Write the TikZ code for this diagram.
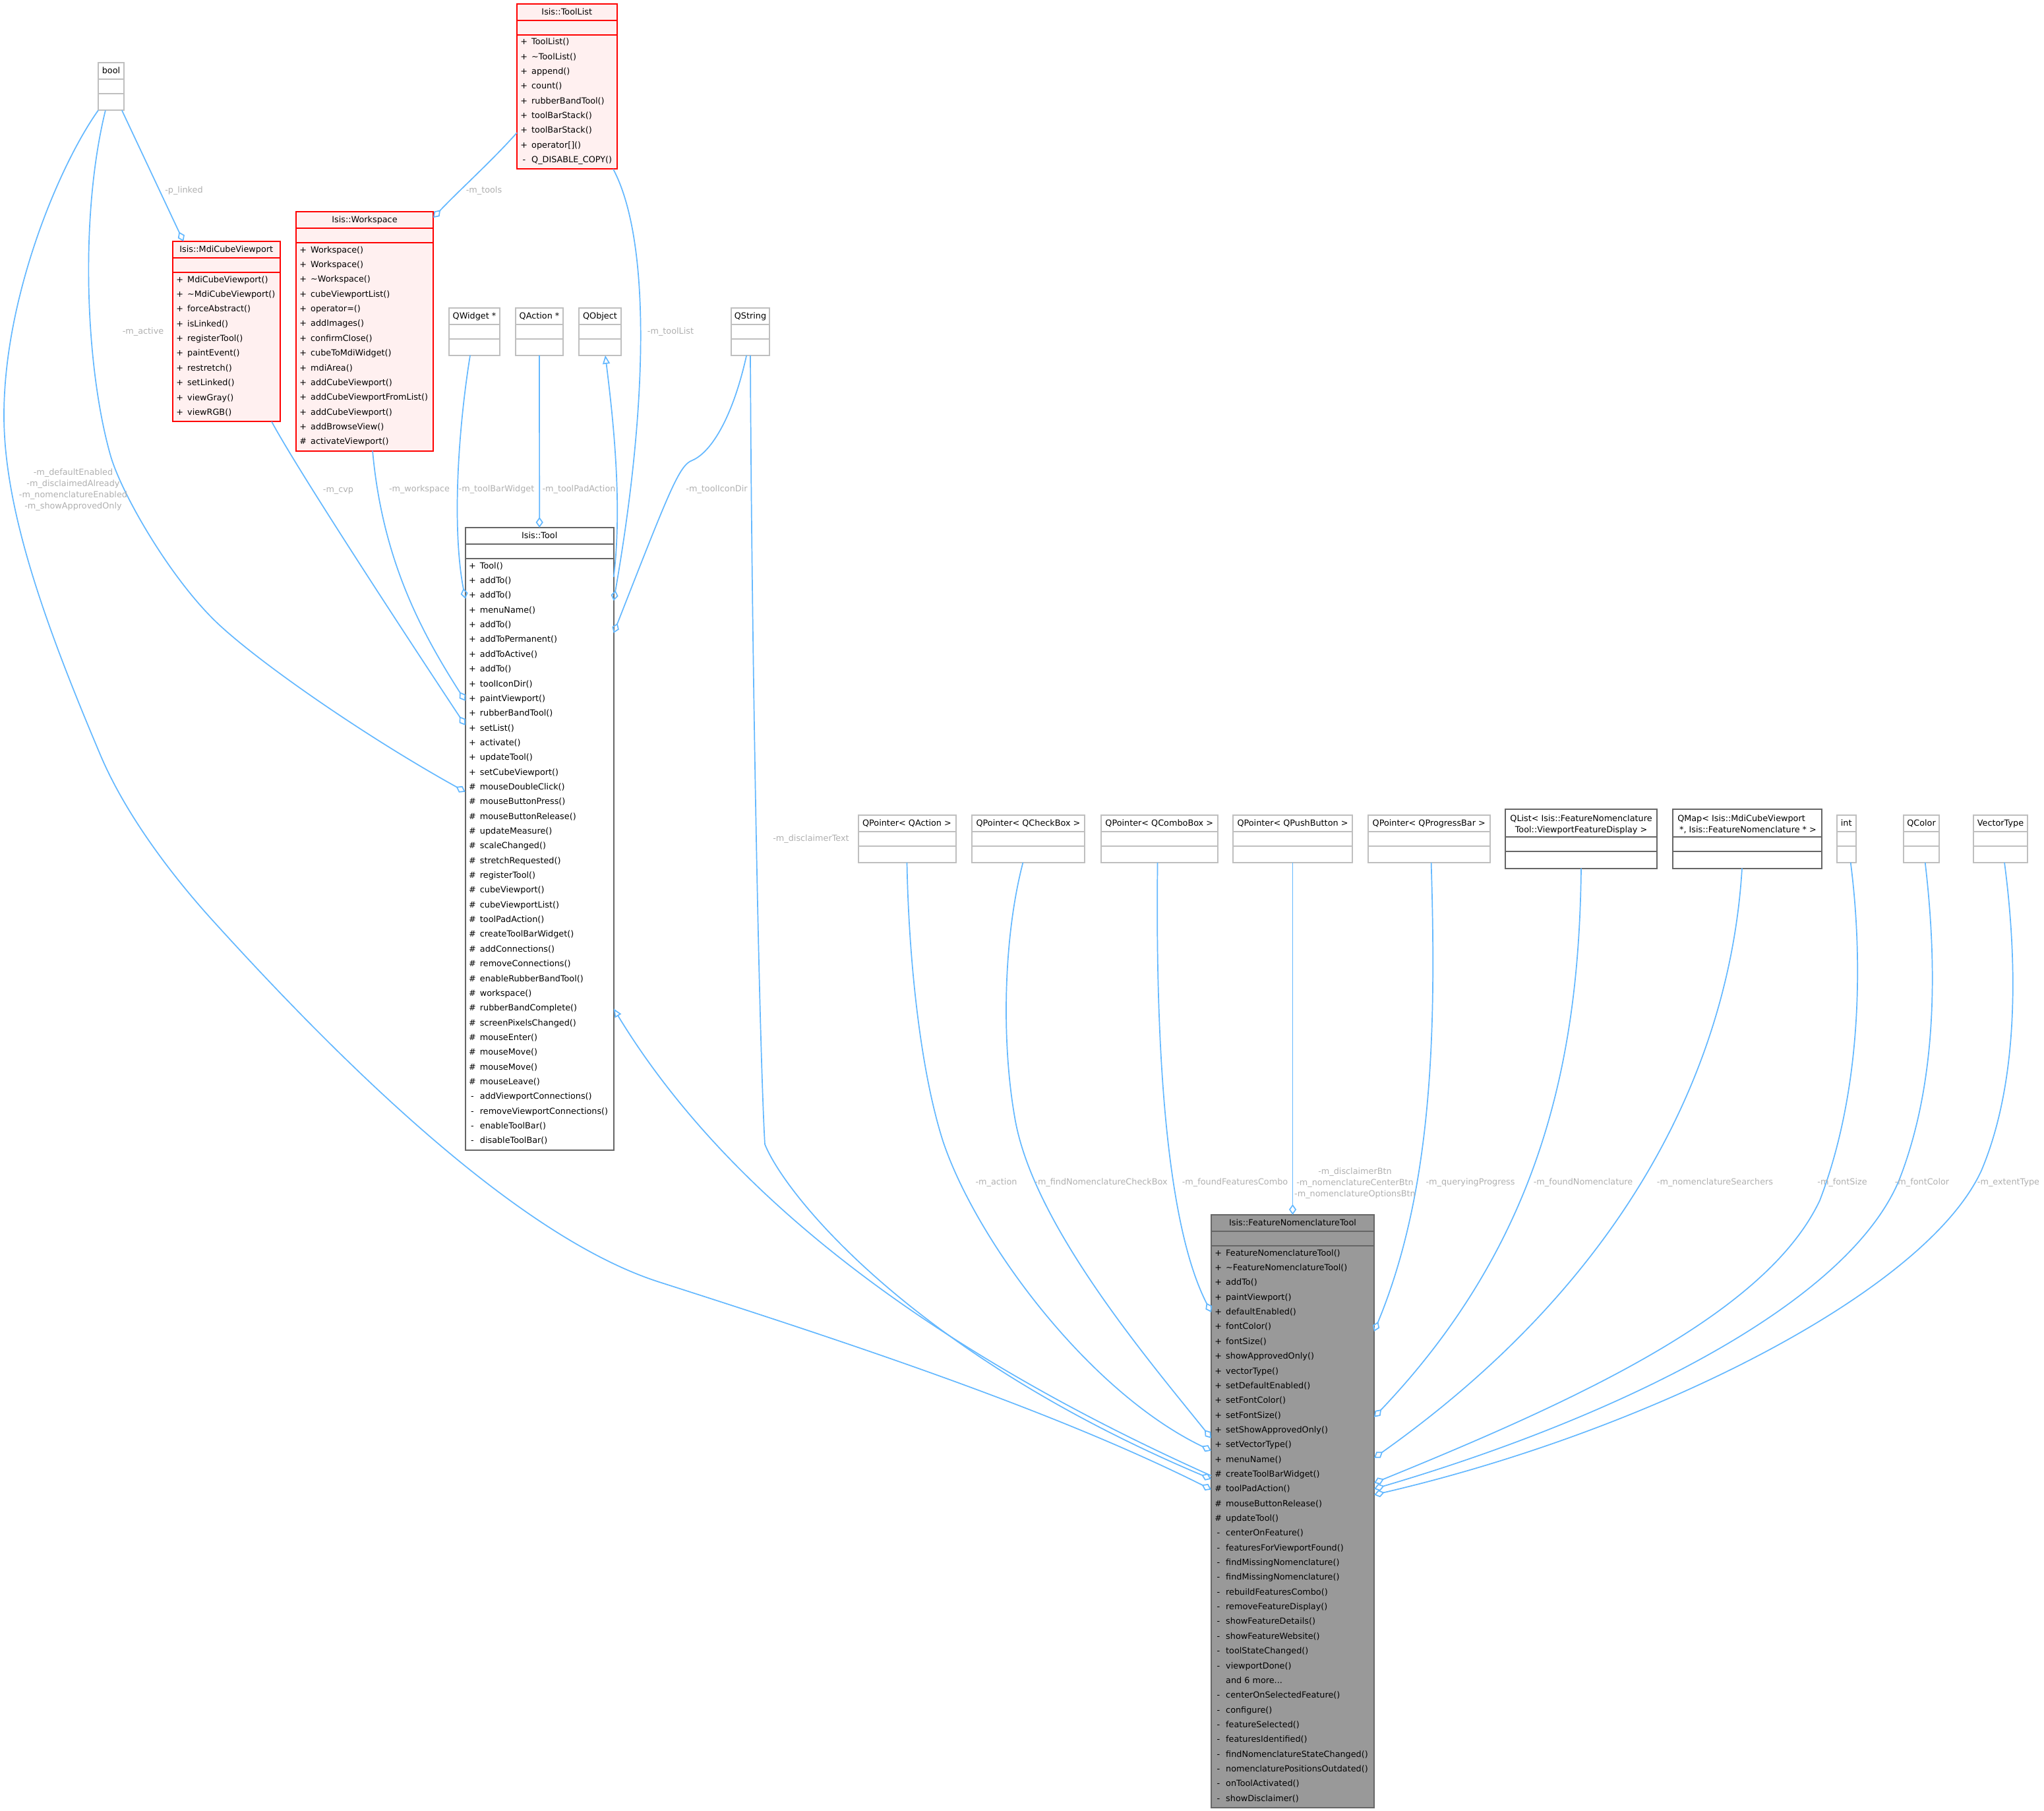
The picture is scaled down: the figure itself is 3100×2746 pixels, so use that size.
\documentclass[tikz,border=0pt]{standalone}
\usepackage{fontspec}
\setmainfont{DejaVu Sans}
\usetikzlibrary{calc,arrows.meta}
\definecolor{edgeblue}{HTML}{63B8FF}
\definecolor{lblgray}{HTML}{B0B0B0}
\definecolor{lightborder}{HTML}{BFBFBF}
\definecolor{darkborder}{HTML}{666666}
\definecolor{redborder}{HTML}{FF0000}
\definecolor{redfill}{HTML}{FFF0F0}
\definecolor{mainfill}{HTML}{999999}
\newcommand\fnt{\fontsize{6.4pt}{8.5pt}\selectfont}
\tikzset{
  lightbox/.style={draw=lightborder, fill=white, line width=1pt, inner sep=0pt, outer sep=0pt},
  darkbox/.style={draw=darkborder, fill=white, line width=1pt, inner sep=0pt, outer sep=0pt},
  redbox/.style={draw=redborder, fill=redfill, line width=1pt, inner sep=0pt, outer sep=0pt},
  mainbox/.style={draw=darkborder, fill=mainfill, line width=1pt, inner sep=0pt, outer sep=0pt},
  txt/.style={font=\fnt, inner sep=0pt, text=black},
  lbl/.style={font=\fnt, inner sep=0pt, text=lblgray, align=center},
  agg/.style={draw=edgeblue, line width=0.85pt, -{Diamond[open, length=8pt, width=5.6pt]}},
  inh/.style={draw=edgeblue, line width=0.85pt, -{Triangle[open, length=6.5pt, width=5.5pt]}},
}
% simple box: name, x, y, w, header
\newcommand\mkSimple[5]{%
  \node[lightbox, anchor=north west, minimum width=#4*0.5pt, minimum height=72.3*0.5pt] (#1) at (#2,#3) {};
  \draw[lightbox, fill=none] (#2,#3+25) -- (#2+#4,#3+25) (#2,#3+47.3) -- (#2+#4,#3+47.3);
  \node[txt, anchor=base] (#1-h) at (#2+#4/2,#3+16.8) {#5};
}
% class box: name, style, x, y, w, n members, header
\newcommand\mkClass[7]{%
  \pgfmathsetmacro\myhh{25+22.3+#6*22.35+2.5}
  \node[#2, anchor=north west, minimum width=#5*0.5pt, minimum height=\myhh*0.5pt] (#1) at (#3,#4) {};
  \draw[#2, fill=none] (#3,#4+25) -- (#3+#5,#4+25) (#3,#4+47.3) -- (#3+#5,#4+47.3);
  \node[txt, anchor=base] (#1-h) at (#3+#5/2,#4+16.8) {#7};
}
% members: prefix, x, field top, list
\newcommand\mkMembers[4]{%
  \foreach \vis/\nam [count=\idx from 0] in {#4} {
    \node[txt, anchor=base] (#1-v\idx) at (#2+10.8, #3+14.9+22.35*\idx) {\vis};
    \node[txt, anchor=base west] (#1-n\idx) at (#2+21.8, #3+14.9+22.35*\idx) {\nam};
  }
}
\begin{document}
\begin{tikzpicture}[x=0.5pt,y=-0.5pt]
\path[use as bounding box, fill=white] (0,0) rectangle (3100,2746);

% ---------- simple boxes ----------
\mkSimple{bool}{149}{95}{39}{bool}
\mkSimple{qwidget}{681}{466.5}{77}{QWidget *}
\mkSimple{qactionp}{782}{466.5}{72}{QAction *}
\mkSimple{qobject}{878}{466.5}{64}{QObject}
\mkSimple{qstring}{1109}{466.5}{58}{QString}
\mkSimple{qpaction}{1301.5}{1235.5}{148}{QPointer< QAction >}
\mkSimple{qpcheck}{1474}{1235.5}{171}{QPointer< QCheckBox >}
\mkSimple{qpcombo}{1669.5}{1235.5}{177.5}{QPointer< QComboBox >}
\mkSimple{qppush}{1870}{1235.5}{181}{QPointer< QPushButton >}
\mkSimple{qpprog}{2075}{1235.5}{184.5}{QPointer< QProgressBar >}
\mkSimple{int}{2786}{1235.5}{28.5}{int}
\mkSimple{qcolor}{2887}{1235.5}{54}{QColor}
\mkSimple{vectortype}{2993}{1235.5}{82}{VectorType}

% ---------- two-line header boxes ----------
\node[darkbox, anchor=north west, minimum width=230*0.5pt, minimum height=89.5*0.5pt] (qlist) at (2283,1227) {};
\draw[darkbox, fill=none] (2283,1269) -- (2513,1269) (2283,1291.3) -- (2513,1291.3);
\node[txt, anchor=base] (qlist-h1) at (2398,1245) {QList< Isis::FeatureNomenclature};
\node[txt, anchor=base] (qlist-h2) at (2398,1262) {Tool::ViewportFeatureDisplay >};

\node[darkbox, anchor=north west, minimum width=226.4*0.5pt, minimum height=89.5*0.5pt] (qmap) at (2536.6,1227) {};
\draw[darkbox, fill=none] (2536.6,1269) -- (2763,1269) (2536.6,1291.3) -- (2763,1291.3);
\node[txt, anchor=base] (qmap-h1) at (2641,1245) {QMap< Isis::MdiCubeViewport};
\node[txt, anchor=base] (qmap-h2) at (2651,1262) {*, Isis::FeatureNomenclature * >};

% ---------- class boxes ----------
\mkClass{toollist}{redbox}{784}{5.5}{151.5}{9}{Isis::ToolList}
\mkMembers{toollist}{784}{52.8}{+/ToolList(), +/\textasciitilde ToolList(), +/append(), +/count(), +/rubberBandTool(), +/toolBarStack(), +/toolBarStack(), +/operator[](), -/Q\_DISABLE\_COPY()}

\mkClass{mdi}{redbox}{262}{366}{162.5}{10}{Isis::MdiCubeViewport}
\mkMembers{mdi}{262}{413.3}{+/MdiCubeViewport(), +/\textasciitilde MdiCubeViewport(), +/forceAbstract(), +/isLinked(), +/registerTool(), +/paintEvent(), +/restretch(), +/setLinked(), +/viewGray(), +/viewRGB()}

\mkClass{ws}{redbox}{449}{321}{208}{14}{Isis::Workspace}
\mkMembers{ws}{449}{368.3}{+/Workspace(), +/Workspace(), +/\textasciitilde Workspace(), +/cubeViewportList(), +/operator=(), +/addImages(), +/confirmClose(), +/cubeToMdiWidget(), +/mdiArea(), +/addCubeViewport(), +/addCubeViewportFromList(), +/addCubeViewport(), +/addBrowseView(), \#/activateViewport()}

\mkClass{tool}{darkbox}{705.7}{800}{225}{40}{Isis::Tool}
\mkMembers{tool}{705.7}{847.3}{+/Tool(), +/addTo(), +/addTo(), +/menuName(), +/addTo(), +/addToPermanent(), +/addToActive(), +/addTo(), +/toolIconDir(), +/paintViewport(), +/rubberBandTool(), +/setList(), +/activate(), +/updateTool(), +/setCubeViewport(), \#/mouseDoubleClick(), \#/mouseButtonPress(), \#/mouseButtonRelease(), \#/updateMeasure(), \#/scaleChanged(), \#/stretchRequested(), \#/registerTool(), \#/cubeViewport(), \#/cubeViewportList(), \#/toolPadAction(), \#/createToolBarWidget(), \#/addConnections(), \#/removeConnections(), \#/enableRubberBandTool(), \#/workspace(), \#/rubberBandComplete(), \#/screenPixelsChanged(), \#/mouseEnter(), \#/mouseMove(), \#/mouseMove(), \#/mouseLeave(), -/addViewportConnections(), -/removeViewportConnections(), -/enableToolBar(), -/disableToolBar()}

\mkClass{fnt}{mainbox}{1837}{1842}{247}{38}{Isis::FeatureNomenclatureTool}
\mkMembers{fnt}{1837}{1889.3}{+/FeatureNomenclatureTool(), +/\textasciitilde FeatureNomenclatureTool(), +/addTo(), +/paintViewport(), +/defaultEnabled(), +/fontColor(), +/fontSize(), +/showApprovedOnly(), +/vectorType(), +/setDefaultEnabled(), +/setFontColor(), +/setFontSize(), +/setShowApprovedOnly(), +/setVectorType(), +/menuName(), \#/createToolBarWidget(), \#/toolPadAction(), \#/mouseButtonRelease(), \#/updateTool(), -/centerOnFeature(), -/featuresForViewportFound(), -/findMissingNomenclature(), -/findMissingNomenclature(), -/rebuildFeaturesCombo(), -/removeFeatureDisplay(), -/showFeatureDetails(), -/showFeatureWebsite(), -/toolStateChanged(), -/viewportDone(), {}/and 6 more.{}.{}., -/centerOnSelectedFeature(), -/configure(), -/featureSelected(), -/featuresIdentified(), -/findNomenclatureStateChanged(), -/nomenclaturePositionsOutdated(), -/onToolActivated(), -/showDisclaimer()}

% ---------- connectors ----------
\draw[agg] ($(bool.south west)!.92!(bool.south east)$) -- ($(mdi.north west)!.1!(mdi.north east)$);
\draw[agg] ($(bool.south west)!.28!(bool.south east)$) .. controls (120,330) and (130,560) .. (168,692) .. controls (185,750) and (260,880) .. (332,947) .. controls (400,1010) and (560,1120) .. ($(tool.north west)!.4245!(tool.south west)$);
\draw[agg] (bool.south west) .. controls (90,250) and (6,450) .. (6,630) .. controls (6,780) and (75,962) .. (153,1146.5) .. controls (193,1240) and (266,1334) .. (326.5,1400) .. controls (607,1709) and (831,1890) .. (1000,1944) .. controls (1300,2040) and (1600,2140) .. ($(fnt.north west)!.4633!(fnt.south west)$);
\draw[agg] ($(mdi.south west)!.923!(mdi.south east)$) .. controls (450,710) and (600,940) .. ($(tool.north west)!.3176!(tool.south west)$);
\draw[agg] ($(ws.south west)!.558!(ws.south east)$) .. controls (580,850) and (640,960) .. ($(tool.north west)!.2784!(tool.south west)$);
\draw[agg] ($(qwidget.south west)!.416!(qwidget.south east)$) .. controls (695,650) and (685,800) .. ($(tool.north west)!.1143!(tool.south west)$);
\draw[agg] (qactionp.south) -- (tool.north);
\draw[inh] ($(tool.north east)!.0794!(tool.south east)$) .. controls (945,760) and (928,620) .. ($(qobject.south west)!.625!(qobject.south east)$);
\draw[agg] ($(toollist.south west)!.964!(toollist.south east)$) .. controls (985,360) and (985,600) .. ($(tool.north east)!.1175!(tool.south east)$);
\draw[agg] ($(qstring.south west)!.4!(qstring.south east)$) .. controls (1112,630) and (1080,685) .. (1050,698) .. controls (1030,705) and (1015,745) .. ($(tool.north east)!.1694!(tool.south east)$);
\draw[agg] ($(toollist.north west)!.78!(toollist.south west)$) .. controls (745,245) and (700,285) .. ($(ws.north east)!.025!(ws.south east)$);
\draw[agg] (qstring.south) .. controls (1140,1000) and (1152,1600) .. (1160,1735) .. controls (1190,1810) and (1380,2050) .. ($(fnt.north west)!.4456!(fnt.south west)$);
\draw[inh] ($(fnt.north west)!.44!(fnt.south west)$) .. controls (1400,2042) and (1099,1806) .. ($(tool.north east)!.7728!(tool.south east)$);
\draw[agg] (qppush.south) -- (fnt.north);
\draw[agg] (qpaction.south) .. controls (1378,1450) and (1395,1620) .. (1430,1730) .. controls (1480,1880) and (1650,2110) .. ($(fnt.north west)!.3978!(fnt.south west)$);
\draw[agg] ($(qpcheck.south west)!.453!(qpcheck.south east)$) .. controls (1522,1420) and (1518,1580) .. (1540,1700) .. controls (1570,1860) and (1740,2060) .. ($(fnt.north west)!.3767!(fnt.south west)$);
\draw[agg] ($(qpcombo.south west)!.485!(qpcombo.south east)$) .. controls (1752,1600) and (1770,1860) .. ($(fnt.north west)!.1644!(fnt.south west)$);
\draw[agg] ($(qpprog.south west)!.518!(qpprog.south east)$) .. controls (2178,1550) and (2175,1800) .. ($(fnt.north east)!.1967!(fnt.south east)$);
\draw[agg] (qlist.south) .. controls (2395,1600) and (2340,1880) .. ($(fnt.north east)!.3411!(fnt.south east)$);
\draw[agg] ($(qmap.south west)!.4655!(qmap.south east)$) .. controls (2625,1600) and (2480,1930) .. ($(fnt.north east)!.41!(fnt.south east)$);
\draw[agg] ($(int.south west)!.726!(int.south east)$) .. controls (2825,1450) and (2825,1650) .. (2760,1820) .. controls (2680,1990) and (2400,2120) .. ($(fnt.north east)!.4522!(fnt.south east)$);
\draw[agg] ($(qcolor.south west)!.6056!(qcolor.south east)$) .. controls (2940,1480) and (2935,1650) .. (2880,1790) .. controls (2800,1980) and (2450,2150) .. ($(fnt.north east)!.4622!(fnt.south east)$);
\draw[agg] ($(vectortype.south west)!.573!(vectortype.south east)$) .. controls (3060,1460) and (3062,1640) .. (3005,1775) .. controls (2920,1960) and (2500,2170) .. ($(fnt.north east)!.4722!(fnt.south east)$);

% ---------- edge labels ----------
\node[lbl, anchor=base] (l-plinked) at (279,292.3) {-p\_linked};
\node[lbl, anchor=base] (l-tools) at (734,292.3) {-m\_tools};
\node[lbl, anchor=base] (l-active) at (217,506.3) {-m\_active};
\node[lbl, anchor=base] (l-toollist) at (1017,506.3) {-m\_toolList};
\node[lbl] (l-bool) at (111,743) {-m\_defaultEnabled\\-m\_disclaimedAlready\\-m\_nomenclatureEnabled\\-m\_showApprovedOnly};
\node[lbl, anchor=base] (l-cvp) at (513,746.3) {-m\_cvp};
\node[lbl, anchor=base] (l-workspace) at (636,745.3) {-m\_workspace};
\node[lbl, anchor=base] (l-toolbarwidget) at (753,745.3) {-m\_toolBarWidget};
\node[lbl, anchor=base] (l-toolpadaction) at (878,745.3) {-m\_toolPadAction};
\node[lbl, anchor=base] (l-toolicondir) at (1087,745.3) {-m\_toolIconDir};
\node[lbl, anchor=base] (l-disclaimertext) at (1230,1275.3) {-m\_disclaimerText};
\node[lbl, anchor=base] (l-action) at (1511,1796.3) {-m\_action};
\node[lbl, anchor=base] (l-checkbox) at (1670,1796.3) {-m\_findNomenclatureCheckBox};
\node[lbl, anchor=base] (l-combo) at (1873,1796.3) {-m\_foundFeaturesCombo};
\node[lbl] (l-btn) at (2055,1794) {-m\_disclaimerBtn\\-m\_nomenclatureCenterBtn\\-m\_nomenclatureOptionsBtn};
\node[lbl, anchor=base] (l-progress) at (2230,1796.3) {-m\_queryingProgress};
\node[lbl, anchor=base] (l-foundnom) at (2401,1796.3) {-m\_foundNomenclature};
\node[lbl, anchor=base] (l-searchers) at (2601,1796.3) {-m\_nomenclatureSearchers};
\node[lbl, anchor=base] (l-fontsize) at (2794,1796.3) {-m\_fontSize};
\node[lbl, anchor=base] (l-fontcolor) at (2915,1796.3) {-m\_fontColor};
\node[lbl, anchor=base] (l-extent) at (3046,1796.3) {-m\_extentType};
\end{tikzpicture}
\end{document}
